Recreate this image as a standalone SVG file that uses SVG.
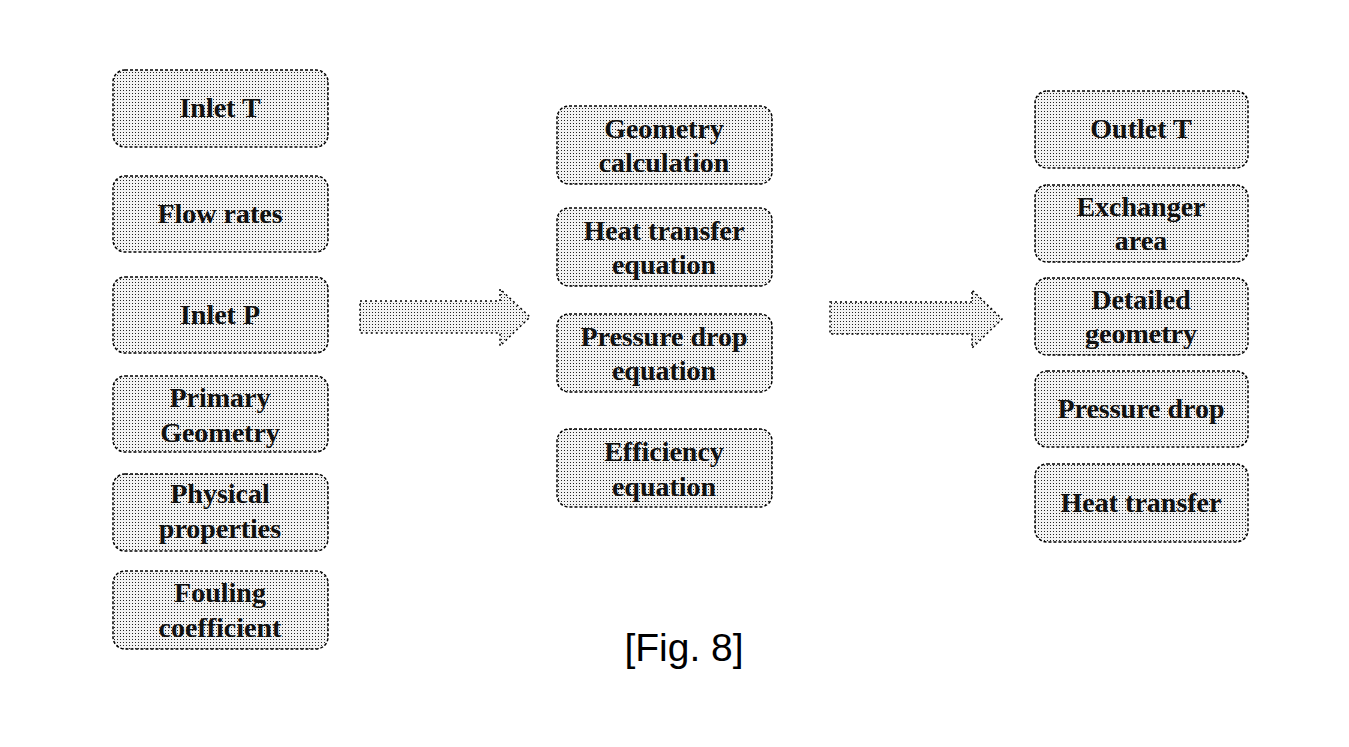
<svg xmlns="http://www.w3.org/2000/svg" width="1349" height="747" viewBox="0 0 1349 747">
<defs>
<pattern id="dots" x="0" y="0" width="3" height="3" patternUnits="userSpaceOnUse">
<rect width="3" height="3" fill="#f2f2f2"/>
<rect width="1" height="1" fill="#222"/>
</pattern>
</defs>
<style>
.box{fill:url(#dots);stroke:#000;stroke-width:1.5;stroke-dasharray:3 2}
.arr{fill:url(#dots);stroke:#000;stroke-width:1.5;stroke-dasharray:2 3}
.t{font-family:"Liberation Serif",serif;font-weight:bold;font-size:28px;fill:#111;text-anchor:middle}
.cap{font-family:"Liberation Sans",Arial,sans-serif;font-size:39px;fill:#000;text-anchor:middle}
</style>
<rect width="1349" height="747" fill="#fff"/>
<g id="inlet-t"><rect class="box" x="113" y="70" width="215" height="77" rx="12"/><text class="t" x="220" y="117">Inlet T</text></g>
<g id="flow-rates"><rect class="box" x="113" y="176" width="215" height="76" rx="12"/><text class="t" x="220" y="223">Flow rates</text></g>
<g id="inlet-p"><rect class="box" x="113" y="277" width="215" height="76" rx="12"/><text class="t" x="220" y="324">Inlet P</text></g>
<g id="primary-geometry"><rect class="box" x="113" y="376" width="215" height="76" rx="12"/><text class="t" x="220" y="407">Primary</text><text class="t" x="220" y="442">Geometry</text></g>
<g id="physical-properties"><rect class="box" x="113" y="474" width="215" height="77" rx="12"/><text class="t" x="220" y="503">Physical</text><text class="t" x="220" y="538">properties</text></g>
<g id="fouling-coefficient"><rect class="box" x="113" y="571" width="215" height="78" rx="12"/><text class="t" x="220" y="602">Fouling</text><text class="t" x="220" y="637">coefficient</text></g>

<g id="geometry-calculation"><rect class="box" x="557" y="106" width="215" height="78" rx="12"/><text class="t" x="664" y="138">Geometry</text><text class="t" x="664" y="172">calculation</text></g>
<g id="heat-transfer-equation"><rect class="box" x="557" y="208" width="215" height="78" rx="12"/><text class="t" x="664" y="240">Heat transfer</text><text class="t" x="664" y="274">equation</text></g>
<g id="pressure-drop-equation"><rect class="box" x="557" y="314" width="215" height="78" rx="12"/><text class="t" x="664" y="346">Pressure drop</text><text class="t" x="664" y="380">equation</text></g>
<g id="efficiency-equation"><rect class="box" x="557" y="429" width="215" height="78" rx="12"/><text class="t" x="664" y="461">Efficiency</text><text class="t" x="664" y="496">equation</text></g>

<g id="outlet-t"><rect class="box" x="1035" y="91" width="213" height="77" rx="12"/><text class="t" x="1141" y="138">Outlet T</text></g>
<g id="exchanger-area"><rect class="box" x="1035" y="185" width="213" height="77" rx="12"/><text class="t" x="1141" y="216">Exchanger</text><text class="t" x="1141" y="250">area</text></g>
<g id="detailed-geometry"><rect class="box" x="1035" y="278" width="213" height="77" rx="12"/><text class="t" x="1141" y="309">Detailed</text><text class="t" x="1141" y="343">geometry</text></g>
<g id="pressure-drop"><rect class="box" x="1035" y="371" width="213" height="76" rx="12"/><text class="t" x="1141" y="418">Pressure drop</text></g>
<g id="heat-transfer"><rect class="box" x="1035" y="464" width="213" height="78" rx="12"/><text class="t" x="1141" y="512">Heat transfer</text></g>

<g id="connectors">
<polygon class="arr" points="360,301 500,301 500,289 530,317 500,346 500,333 360,333"/>
<polygon class="arr" points="830,302 972,302 972,290 1002,319 972,348 972,334 830,334"/>
</g>
<text class="cap" x="684" y="661">[Fig. 8]</text>
</svg>
